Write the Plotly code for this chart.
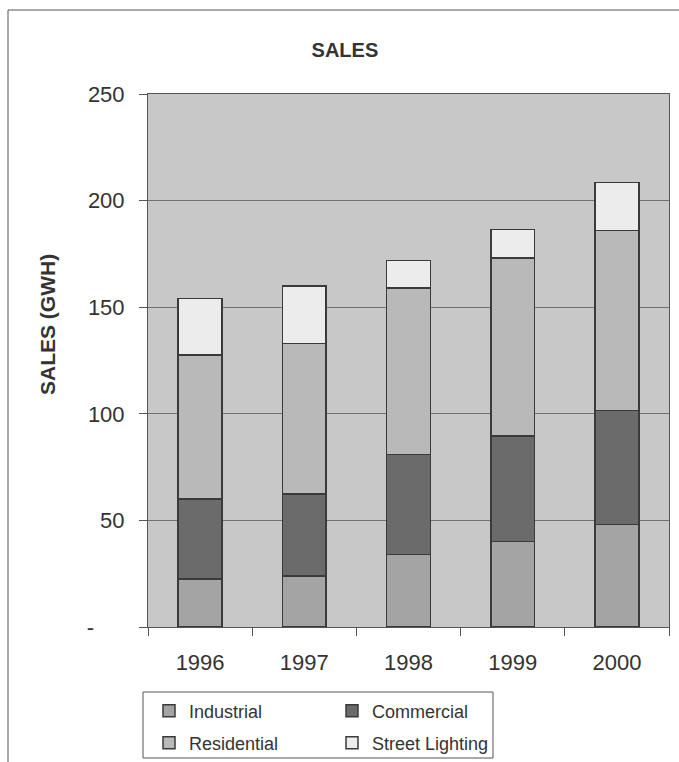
import plotly.graph_objects as go

years = ["1996", "1997", "1998", "1999", "2000"]
industrial = [22.5, 24, 34, 40, 48]
commercial = [37.5, 38.5, 47, 49.5, 53.5]
residential = [67.5, 70.5, 78, 83.5, 84.5]
street_lighting = [26.5, 27, 13, 13.5, 22.5]

series = [
    ("Industrial", industrial, "#a4a4a4", "legend"),
    ("Commercial", commercial, "#6b6b6b", "legend2"),
    ("Residential", residential, "#b9b9b9", "legend3"),
    ("Street Lighting", street_lighting, "#ececec", "legend4"),
]

fig = go.Figure()
for name, vals, col, lg in series:
    fig.add_trace(go.Bar(
        x=years, y=vals, name=name, legend=lg, showlegend=True,
        marker=dict(color=col, line=dict(color="#3a3a3a", width=1.5)),
        width=0.42,
    ))

font_family = "Liberation Sans, Arial, sans-serif"
txt = "#333333"

CW, CH = 679.0, 762.0
def cx(x):
    return x / CW
def cy(y):
    return 1 - y / CH

def leg(x, y):
    return dict(x=cx(x), y=cy(y), xref="container", yref="container",
                xanchor="left", yanchor="middle",
                orientation="v", font=dict(size=18, color=txt),
                bgcolor="rgba(0,0,0,0)", itemwidth=30, visible=True)

H = 533.0
W = 521.0
def px(x):
    return (x - 148) / W
def py(y):
    return (627 - y) / H

fig.update_layout(
    width=679, height=762,
    barmode="stack",
    showlegend=True,
    paper_bgcolor="white",
    plot_bgcolor="#c8c8c8",
    margin=dict(l=148, r=10, t=94, b=135, autoexpand=False),
    font=dict(family=font_family, color=txt),
    title=dict(text="<b>SALES</b>", x=0.508, xanchor="center", y=0.934, yanchor="middle",
               font=dict(size=20, color=txt)),
    xaxis=dict(
        type="category", tickson="boundaries",
        ticks="outside", ticklen=8, tickcolor="#555555",
        showline=True, linecolor="#555555", linewidth=1, mirror=True,
        tickfont=dict(size=22, color=txt), ticklabelstandoff=16,
        showgrid=False, automargin=False,
    ),
    yaxis=dict(
        range=[0, 250], tickvals=[0, 50, 100, 150, 200, 250],
        ticktext=["-" + "\u00a0" * 5, "50", "100", "150", "200", "250"],
        ticks="outside", ticklen=8, tickcolor="#555555",
        showline=True, linecolor="#555555", linewidth=1, mirror=True,
        showgrid=True, gridcolor="#707070", gridwidth=1,
        tickfont=dict(size=22, color=txt), ticklabelstandoff=10,
        zeroline=False, automargin=False,
    ),
    legend=leg(149, 711),
    legend2=leg(332, 711),
    legend3=leg(149, 743),
    legend4=leg(332, 743),
    annotations=[
        dict(text="<b>SALES (GWH)</b>", xref="paper", yref="paper",
             x=px(47), y=py(325), xanchor="center", yanchor="middle",
             textangle=-90, showarrow=False, font=dict(size=21, color=txt)),
    ],
    shapes=[
        dict(type="rect", xref="paper", yref="paper",
             x0=px(143), x1=px(493), y0=py(758), y1=py(692),
             line=dict(color="#555555", width=1)),
        dict(type="line", xref="paper", yref="paper",
             x0=px(8), x1=px(700), y0=py(10), y1=py(10),
             line=dict(color="#555555", width=1)),
        dict(type="line", xref="paper", yref="paper",
             x0=px(8), x1=px(8), y0=py(770), y1=py(10),
             line=dict(color="#555555", width=1)),
    ],
)

fig.write_html("out.html")
